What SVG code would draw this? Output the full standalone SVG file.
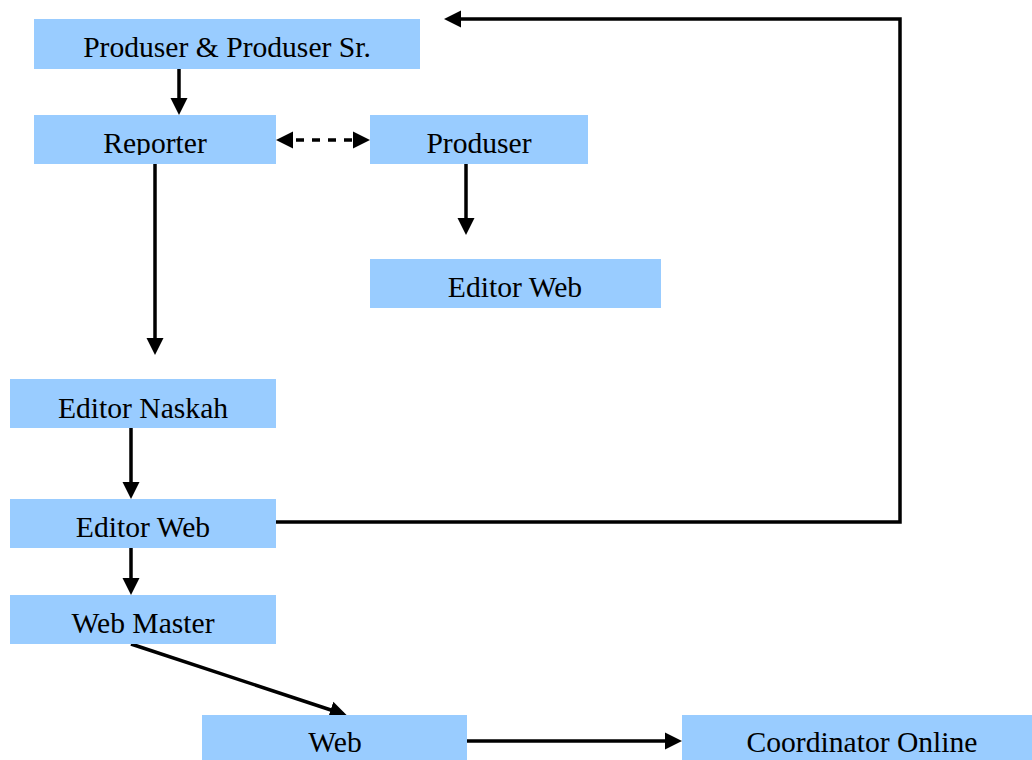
<svg xmlns="http://www.w3.org/2000/svg" width="1032" height="760" viewBox="0 0 1032 760">
<style>
.box{fill:#99CCFF;}
.lbl{font-family:'Liberation Serif','DejaVu Serif',serif;font-size:29.6px;fill:#000;text-anchor:middle;}
.ln{stroke:#000;stroke-width:3.5;fill:none;}
.dash{stroke-dasharray:8 8;}
</style>
<defs>
<marker id="ah" markerUnits="userSpaceOnUse" markerWidth="18" markerHeight="18" refX="13" refY="9" orient="auto-start-reverse" viewBox="0 0 18 18">
<path d="M0,0.5 L17,9 L0,17.5 z" fill="#000"/>
</marker>
<clipPath id="cRep"><rect x="34" y="115" width="242" height="40"/></clipPath>
<clipPath id="cProd"><rect x="370" y="115" width="218" height="41"/></clipPath>
</defs>
<rect width="1032" height="760" fill="#fff"/>
<g id="connectors">
<line class="ln" x1="179" y1="69" x2="179" y2="111" marker-end="url(#ah)"/>
<line class="ln dash" x1="280" y1="140" x2="366" y2="140" marker-start="url(#ah)" marker-end="url(#ah)"/>
<line class="ln" x1="155" y1="164" x2="155" y2="351" marker-end="url(#ah)"/>
<line class="ln" x1="466" y1="164" x2="466" y2="231" marker-end="url(#ah)"/>
<line class="ln" x1="131" y1="428" x2="131" y2="495" marker-end="url(#ah)"/>
<line class="ln" x1="131" y1="548" x2="131" y2="591" marker-end="url(#ah)"/>
<line class="ln" x1="131" y1="644" x2="343" y2="714" marker-end="url(#ah)"/>
<line class="ln" x1="467" y1="741" x2="678" y2="741" marker-end="url(#ah)"/>
<polyline class="ln" points="276,522 900,522 900,19 448,19" marker-end="url(#ah)"/>
</g>
<g id="n-produser-sr"><rect class="box" x="34" y="19" width="386" height="50"/><text class="lbl" x="227" y="57">Produser &amp; Produser Sr.</text></g>
<g id="n-reporter"><rect class="box" x="34" y="115" width="242" height="49"/><text class="lbl" x="155" y="153" clip-path="url(#cRep)">Reporter</text></g>
<g id="n-produser"><rect class="box" x="370" y="115" width="218" height="49"/><text class="lbl" x="479" y="153" clip-path="url(#cProd)">Produser</text></g>
<g id="n-editor-web-2"><rect class="box" x="370" y="259" width="291" height="49"/><text class="lbl" x="515" y="297">Editor Web</text></g>
<g id="n-editor-naskah"><rect class="box" x="10" y="379" width="266" height="49"/><text class="lbl" x="143" y="418">Editor Naskah</text></g>
<g id="n-editor-web"><rect class="box" x="10" y="499" width="266" height="49"/><text class="lbl" x="143" y="537">Editor Web</text></g>
<g id="n-web-master"><rect class="box" x="10" y="595" width="266" height="49"/><text class="lbl" x="143" y="633">Web Master</text></g>
<g id="n-web"><rect class="box" x="202" y="715" width="265" height="45"/><text class="lbl" x="335" y="752">Web</text></g>
<g id="n-coordinator"><rect class="box" x="682" y="715" width="350" height="45"/><text class="lbl" x="862" y="752">Coordinator Online</text></g>
</svg>
